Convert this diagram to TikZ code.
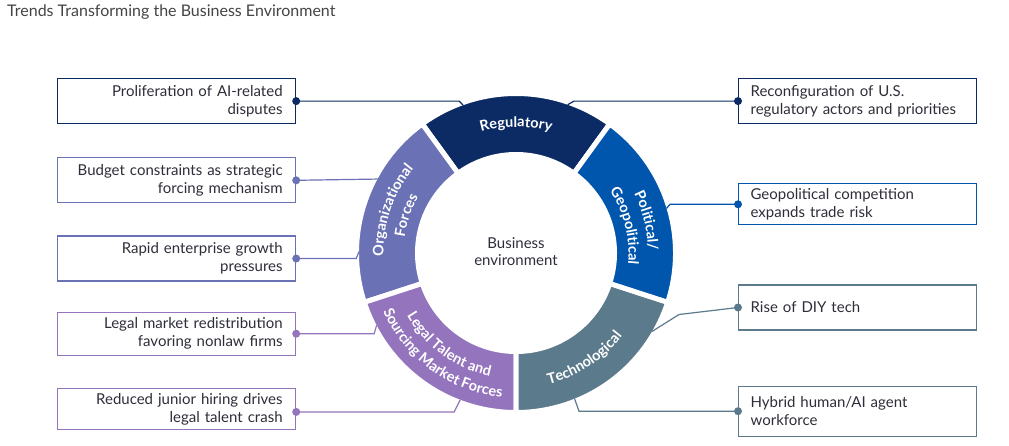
\documentclass[tikz,border=0pt]{standalone}
\usepackage{fontspec}
\setmainfont{Lato}
\usetikzlibrary{positioning, calc, decorations.text}

\definecolor{regc}{RGB}{12,43,100}
\definecolor{polc}{RGB}{0,86,173}
\definecolor{tecc}{RGB}{91,122,140}
\definecolor{legc}{RGB}{148,116,189}
\definecolor{orgc}{RGB}{106,113,180}
\definecolor{txtc}{RGB}{46,46,58}
\definecolor{titc}{RGB}{68,68,68}

\begin{document}
\begin{tikzpicture}[
        x=1pt, y=1pt,
        font=\fontsize{15}{18}\selectfont,
        box/.style={draw, line width=1.2pt, fill=white, text=txtc, minimum width=238pt, text width=212pt, inner xsep=13pt, inner ysep=3pt},
        lbox/.style={box, align=right},
        rbox/.style={box, align=left, inner xsep=12pt, text width=214pt},
        seg/.style={draw=white, line width=5pt},
        link/.style={line width=1.2pt},
        arcl/.style={decorate, decoration={text along path, text align=center, text color=white, text={|\fontsize{14.5}{14.5}\selectfont\bfseries|#1}}}
    ]
        \useasboundingbox (0,0) rectangle (1009,-445);
        \coordinate (C) at (516,-253);

        % --- Titel ---
        \node[anchor=base west, inner sep=0pt, text=titc, font=\fontsize{16}{18}\selectfont] (title) at (7,-16) {Trends Transforming the Business Environment};

        % --- Ring ---
        \foreach \a/\col in {54/regc, 126/orgc, 198/legc, 270/tecc, 342/polc}
            \path[seg, fill=\col] ($(C)+(\a:159.5)$) arc[start angle=\a, end angle=\a+72, radius=159.5]
                -- ($(C)+(\a+72:98.5)$) arc[start angle=\a+72, end angle=\a, radius=98.5] -- cycle;
        \node[align=center, text=txtc, font=\fontsize{15}{17}\selectfont] (env) at (516,-252) {Business\\environment};

        % segment labels
        \path[arcl={Regulatory}] ($(C)+(130:126)$) arc[start angle=130, end angle=50, radius=126];
        \path[arcl={Political/}] ($(C)+(56:132)$) arc[start angle=56, end angle=-28, radius=132];
        \path[arcl={Geopolitical}] ($(C)+(56:112.5)$) arc[start angle=56, end angle=-28, radius=112.5];
        \path[arcl={Technological}] ($(C)+(-99:135)$) arc[start angle=-99, end angle=-15, radius=135];
        \path[arcl={Legal Talent and}] ($(C)+(187:126)$) arc[start angle=187, end angle=281, radius=126];
        \path[arcl={Sourcing Market Forces}] ($(C)+(187:145)$) arc[start angle=187, end angle=281, radius=145];
        \path[arcl={Organizational}] ($(C)+(203:132.5)$) arc[start angle=203, end angle=119, radius=132.5];
        \path[arcl={Forces}] ($(C)+(203:112.5)$) arc[start angle=203, end angle=119, radius=112.5];

        % ends of the connectors on the ring
        \coordinate (t1) at ($(C)+(109.7:157)$);
        \coordinate (t2) at ($(C)+(151.9:157)$);
        \coordinate (t3) at ($(C)+(179.5:157)$);
        \coordinate (t4) at ($(C)+(207.4:157)$);
        \coordinate (t5) at ($(C)+(249.2:157)$);
        \coordinate (u1) at ($(C)+(70.8:157)$);
        \coordinate (u2) at ($(C)+(16.5:157)$);
        \coordinate (u3) at ($(C)+(-30:157)$);
        \coordinate (u4) at ($(C)+(-68.1:157)$);

        % --- Links ---
        \node[lbox, draw=regc, minimum height=45pt, anchor=north west] (b1) at (57,-78) {Proliferation of AI-related\\disputes};
        \node[lbox, draw=orgc, minimum height=45pt, below=33pt of b1] (b2) {Budget constraints as strategic\\forcing mechanism};
        \node[lbox, draw=orgc, minimum height=45pt, below=32pt of b2] (b3) {Rapid enterprise growth\\pressures};
        \node[lbox, draw=legc, minimum height=43pt, below=30pt of b3] (b4) {Legal market redistribution\\favoring nonlaw firms};
        \node[lbox, draw=legc, minimum height=41pt, below=32pt of b4] (b5) {Reduced junior hiring drives\\legal talent crash};
        \coordinate (d5) at ($(b5.east)+(0,-3)$);

        \draw[link, regc] (b1.east) -- ++(163,0) -- (t1);
        \draw[link, orgc] (b2.east) -- (t2);
        \draw[link, orgc] (b3.east) -- ++(60,0) -- (t3);
        \draw[link, legc] (b4.east) -- ++(78,0) -- (t4);
        \draw[link, legc] (d5) -- ++(158,0) -- (t5);
        \fill[regc] (b1.east) circle[radius=4];
        \fill[orgc] (b2.east) circle[radius=4];
        \fill[orgc] (b3.east) circle[radius=4];
        \fill[legc] (b4.east) circle[radius=4];
        \fill[legc] (d5) circle[radius=4];

        % --- Rechts ---
        \node[rbox, draw=regc, minimum height=45pt, anchor=north west] (r1) at (738,-78) {Reconfiguration of U.S.\\regulatory actors and priorities};
        \node[rbox, draw=polc, minimum height=41pt, below=59pt of r1] (r2) {Geopolitical competition\\expands trade risk};
        \node[rbox, draw=tecc, minimum height=45pt, below=59pt of r2] (r3) {Rise of DIY tech};
        \node[rbox, draw=tecc, minimum height=50pt, below=55pt of r3] (r4) {Hybrid human/AI agent\\workforce};

        \draw[link, regc] (r1.west) -- ++(-164,0) -- (u1);
        \draw[link, polc] (r2.west) -- ++(-68,0) -- (u2);
        \draw[link, tecc] (r3.west) -- ++(-59,-7) -- (u3);
        \draw[link, tecc] (r4.west) -- ++(-159,0) -- (u4);
        \fill[regc] (r1.west) circle[radius=4];
        \fill[polc] (r2.west) circle[radius=4];
        \fill[tecc] (r3.west) circle[radius=4];
        \fill[tecc] (r4.west) circle[radius=4];
    \end{tikzpicture}
\end{document}
